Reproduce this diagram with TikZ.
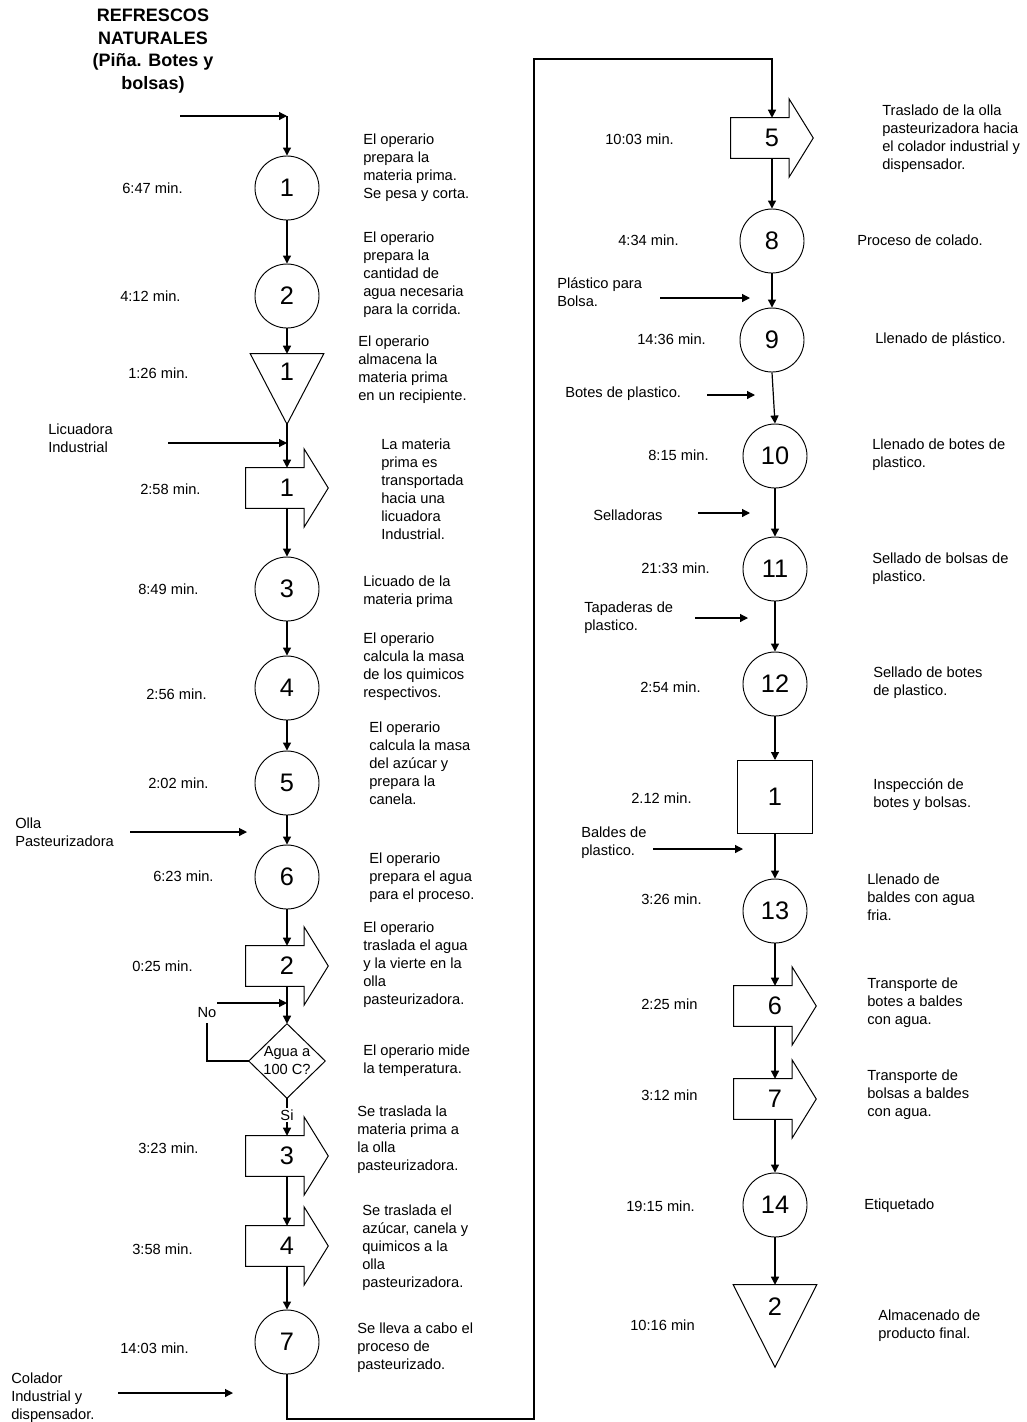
\documentclass[tikz,border=0pt]{standalone}
\usepackage{fontspec}
\setmainfont{Liberation Sans}
\usetikzlibrary{arrows.meta,calc}
\newcommand\numf{\fontsize{19}{22}\selectfont}
\newcommand\descf{\fontsize{11}{13.5}\selectfont}
\newcommand\titf{\fontsize{13.5}{16.9}\selectfont\bfseries}
\newcommand\transp[1]{\draw[shp] (#1.north west) -- ($(#1.north)+(17,0)$) -- ++(0,-19) -- (#1.east) -- ($(#1.south)+(17,19)$) -- ++(0,-19) -- (#1.south west) -- cycle;}
\newcommand\stor[1]{\draw[shp] (#1.north west) -- (#1.north east) -- (#1.south) -- cycle;}
\begin{document}
\begin{tikzpicture}[x=0.75pt,y=-0.75pt,
  every node/.style={inner sep=0pt},
  ln/.style={line width=0.9pt},
  arr/.style={line width=0.9pt,-{Triangle[length=6pt,width=6pt]}},
  shp/.style={line width=0.75pt},
  opc/.style={circle,draw,line width=0.7pt,minimum size=48pt,font=\numf},
  tnode/.style={minimum width=61.5pt,minimum height=30pt,font=\numf},
  tri1/.style={minimum width=54.75pt,minimum height=52.5pt},
  tri2/.style={minimum width=62.25pt,minimum height=61.5pt},
  dnode/.style={minimum width=57pt,minimum height=55.5pt,align=center,font=\descf},
  insp/.style={draw,line width=0.75pt,minimum width=56.25pt,minimum height=54.75pt,font=\numf},
  numtxt/.style={font=\numf},
  desc/.style={anchor=west,align=left,font=\descf},
  tm/.style={anchor=west,font=\descf},
  ttl/.style={align=center,font=\titf}
]
\fill[white] (0,0) rectangle (1027,1422);
\useasboundingbox (0,0) rectangle (1027,1422);

% ---------- left column shapes ----------
\node[opc] (c1) at (287,188) {1};
\node[opc] (c2) at (287,296) {2};
\node[tri1] (s1) at (287,389) {};
\node[numtxt] (s1n) at (287,372) {1};
\node[tnode] (t1) at (287,488) {1};
\node[opc] (c3) at (287,589) {3};
\node[opc] (c4) at (287,688) {4};
\node[opc] (c5) at (287,783) {5};
\node[opc] (c6) at (287,877) {6};
\node[tnode] (t2) at (287,966) {2};
\node[dnode] (d1) at (287,1061) {Agua a\\100 C?};
\node[tnode] (t3) at (287,1156) {3};
\node[tnode] (t4) at (287,1246) {4};
\node[opc] (c7) at (287,1342) {7};

\stor{s1}
\transp{t1}
\transp{t2}
\transp{t3}
\transp{t4}
\draw[shp] (d1.north) -- (d1.east) -- (d1.south) -- (d1.west) -- cycle;

% ---------- right column shapes ----------
\node[tnode] (t5) at (772,138) {5};
\node[opc] (c8) at (772,241) {8};
\node[opc] (c9) at (772,340) {9};
\node[opc] (c10) at (775,456) {10};
\node[opc] (c11) at (775,569) {11};
\node[opc] (c12) at (775,684) {12};
\node[insp] (i1) at (775,797) {1};
\node[opc] (c13) at (775,911) {13};
\node[tnode] (t6) at (775,1006) {6};
\node[tnode] (t7) at (775,1099) {7};
\node[opc] (c14) at (775,1205) {14};
\node[tri2] (s2) at (775,1326) {};
\node[numtxt] (s2n) at (775,1307) {2};

\transp{t5}
\transp{t6}
\transp{t7}
\stor{s2}

% ---------- title and inputs ----------
\node[ttl] (title) at (153,51) {REFRESCOS\\NATURALES\\(Piña. Botes y\\bolsas)};
\coordinate (in0) at (180,116);
\coordinate (cor0) at (287,116);
\draw[arr] (in0) -- (cor0);
\draw[arr] (cor0) -- (c1.north);

\node[desc] (licu) at (48,438) {Licuadora\\Industrial};
\coordinate (licua) at (168,443);
\coordinate (licub) at (287,443);

\node[desc] (olla) at (15,832) {Olla\\Pasteurizadora};
\coordinate (ollaa) at (130,832);
\coordinate (ollab) at (247,832);

\node[desc] (cola) at (11,1398) {Colador\\Industrial y\\dispensador.};
\coordinate (colaa) at (118,1393);
\coordinate (colab) at (233,1393);

\node[desc] (plas) at (557,292) {Plástico para\\Bolsa.};
\coordinate (plasa) at (660,298);
\coordinate (plasb) at (750,298);

\node[desc] (botes) at (565,394) {Botes de plastico.};
\coordinate (botesa) at (707,395);
\coordinate (botesb) at (755,395);

\node[desc] (sell) at (593,515) {Selladoras};
\coordinate (sella) at (698,513);
\coordinate (sellb) at (750,513);

\node[desc] (tapa) at (584,618) {Tapaderas de\\plastico.};
\coordinate (tapaa) at (695,618);
\coordinate (tapab) at (748,618);

\node[desc] (bald) at (581,843) {Baldes de\\plastico.};
\coordinate (balda) at (653,849);
\coordinate (baldb) at (743,849);

% ---------- connectors left ----------
\draw[arr] (c1.south) -- (c2.north);
\draw[arr] (c2.south) -- (s1.north);
\draw[arr] (s1.south) -- (t1.north);
\draw[arr] (licua) -- (licub);
\draw[arr] (t1.south) -- (c3.north);
\draw[arr] (c3.south) -- (c4.north);
\draw[arr] (c4.south) -- (c5.north);
\draw[arr] (c5.south) -- (c6.north);
\draw[arr] (ollaa) -- (ollab);
\draw[arr] (c6.south) -- (t2.north);
\draw[arr] (t2.south) -- (d1.north);
\coordinate (nolp) at (207,1023);
\coordinate (noa) at (217,1003);
\coordinate (noj) at (287,1003);
\draw[ln] (d1.west) -| (nolp);
\node[font=\descf] (nolbl) at (207,1013) {No};
\draw[arr] (noa) -- (noj);
\draw[arr] (d1.south) -- (t3.north);
\node[font=\descf,fill=white,inner sep=1pt] (si) at (287,1115) {Si};
\draw[arr] (t3.south) -- (t4.north);
\draw[arr] (t4.south) -- (c7.north);
\draw[arr] (colaa) -- (colab);
\coordinate (lpb) at (534,1419);
\coordinate (lpt) at (772,59);
\draw[arr] (c7.south) |- (lpb) |- (lpt) -- (t5.north);

% ---------- connectors right ----------
\draw[arr] (t5.south) -- (c8.north);
\draw[arr] (c8.south) -- (c9.north);
\draw[arr] (plasa) -- (plasb);
\draw[arr] (c9.south) -- (c10.north);
\draw[arr] (botesa) -- (botesb);
\draw[arr] (c10.south) -- (c11.north);
\draw[arr] (sella) -- (sellb);
\draw[arr] (c11.south) -- (c12.north);
\draw[arr] (tapaa) -- (tapab);
\draw[arr] (c12.south) -- (i1.north);
\draw[arr] (i1.south) -- (c13.north);
\draw[arr] (balda) -- (baldb);
\draw[arr] (c13.south) -- (t6.north);
\draw[arr] (t6.south) -- (t7.north);
\draw[arr] (t7.south) -- (c14.north);
\draw[arr] (c14.south) -- (s2.north);

% ---------- times left ----------
\node[tm] (m1) at (122,188) {6:47 min.};
\node[tm] (m2) at (120,296) {4:12 min.};
\node[tm] (m3) at (128,373) {1:26 min.};
\node[tm] (m4) at (140,489) {2:58 min.};
\node[tm] (m5) at (138,589) {8:49 min.};
\node[tm] (m6) at (146,694) {2:56 min.};
\node[tm] (m7) at (148,783) {2:02 min.};
\node[tm] (m8) at (153,876) {6:23 min.};
\node[tm] (m9) at (132,966) {0:25 min.};
\node[tm] (m10) at (138,1148) {3:23 min.};
\node[tm] (m11) at (132,1249) {3:58 min.};
\node[tm] (m12) at (120,1348) {14:03 min.};

% ---------- times right ----------
\node[tm] (r1) at (605,139) {10:03 min.};
\node[tm] (r2) at (618,240) {4:34 min.};
\node[tm] (r3) at (637,339) {14:36 min.};
\node[tm] (r4) at (648,455) {8:15 min.};
\node[tm] (r5) at (641,568) {21:33 min.};
\node[tm] (r6) at (640,687) {2:54 min.};
\node[tm] (r7) at (631,798) {2.12 min.};
\node[tm] (r8) at (641,899) {3:26 min.};
\node[tm] (r9) at (641,1004) {2:25 min};
\node[tm] (r10) at (641,1095) {3:12 min};
\node[tm] (r11) at (626,1206) {19:15 min.};
\node[tm] (r12) at (630,1325) {10:16 min};

% ---------- descriptions left ----------
\node[desc] (d01) at (363,168) {El operario\\prepara la\\materia prima.\\Se pesa y corta.};
\node[desc] (d02) at (363,275) {El operario\\prepara la\\cantidad de\\agua necesaria\\para la corrida.};
\node[desc] (d03) at (358,370) {El operario\\almacena la\\materia prima\\en un recipiente.};
\node[desc] (d04) at (381,489) {La materia\\prima es\\transportada\\hacia una\\licuadora\\Industrial.};
\node[desc] (d05) at (363,592) {Licuado de la\\materia prima};
\node[desc] (d06) at (363,667) {El operario\\calcula la masa\\de los quimicos\\respectivos.};
\node[desc] (d07) at (369,763) {El operario\\calcula la masa\\del azúcar y\\prepara la\\canela.};
\node[desc] (d08) at (369,878) {El operario\\prepara el agua\\para el proceso.};
\node[desc] (d09) at (363,965) {El operario\\traslada el agua\\y la vierte en la\\olla\\pasteurizadora.};
\node[desc] (d10) at (363,1061) {El operario mide\\la temperatura.};
\node[desc] (d11) at (357,1140) {Se traslada la\\materia prima a\\la olla\\pasteurizadora.};
\node[desc] (d12) at (362,1248) {Se traslada el\\azúcar, canela y\\quimicos a la\\olla\\pasteurizadora.};
\node[desc] (d13) at (357,1348) {Se lleva a cabo el\\proceso de\\pasteurizado.};

% ---------- descriptions right ----------
\node[desc] (e01) at (882,139) {Traslado de la olla\\pasteurizadora hacia\\el colador industrial y\\dispensador.};
\node[desc] (e02) at (857,240) {Proceso de colado.};
\node[desc] (e03) at (875,340) {Llenado de plástico.};
\node[desc] (e04) at (872,455) {Llenado de botes de\\plastico.};
\node[desc] (e05) at (872,569) {Sellado de bolsas de\\plastico.};
\node[desc] (e06) at (873,683) {Sellado de botes\\de plastico.};
\node[desc] (e07) at (873,795) {Inspección de\\botes y bolsas.};
\node[desc] (e08) at (867,897) {Llenado de\\baldes con agua\\fria.};
\node[desc] (e09) at (867,1003) {Transporte de\\botes a baldes\\con agua.};
\node[desc] (e10) at (867,1095) {Transporte de\\bolsas a baldes\\con agua.};
\node[desc] (e11) at (864,1206) {Etiquetado};
\node[desc] (e12) at (878,1326) {Almacenado de\\producto final.};
\end{tikzpicture}
\end{document}
